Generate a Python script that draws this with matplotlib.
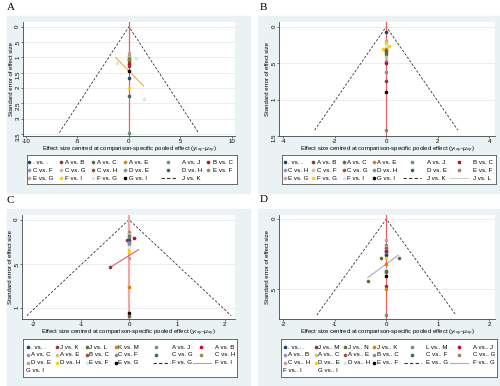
import matplotlib
matplotlib.use('Agg')
import matplotlib.pyplot as plt
from matplotlib.patches import Rectangle
from matplotlib.ticker import FuncFormatter

plt.rcParams['font.family'] = ['Liberation Sans', 'DejaVu Sans']
plt.rcParams['axes.unicode_minus'] = False

# stata s2color marker palette (p1..p15) + black
pal = ['#1a476f', '#90353b', '#55752f', '#e37e00', '#6e8e84', '#c10534',
       '#938dd2', '#cac27e', '#a0522d', '#7b92a8', '#2d6d66', '#9c8847',
       '#bfa19c', '#ffd200', '#d9e6eb', '#000000']

# ---------------- panel A ----------------
a_keys = ['. vs. .', 'A vs. B', 'A vs. C', 'A vs. E', 'A vs. J', 'B vs. C',
          'C vs. F', 'C vs. G', 'C vs. H', 'D vs. E', 'D vs. H', 'E vs. F',
          'E vs. G', 'F vs. I', 'F vs. G', 'G vs. I', 'J vs. K']
a_pt_key = ['E vs. G', 'A vs. E', 'C vs. G', 'C vs. F', 'A vs. C', 'D vs. E',
            'E vs. F', 'C vs. H', 'B vs. C', 'A vs. B', 'G vs. I', '. vs. .',
            'F vs. I', 'D vs. H', 'A vs. J', 'F vs. G', 'F vs. G', 'F vs. G']
a_pt_x = [0, 0, 0, 0, 0, 0, 0, 0, 0, 0, 0, 0, 0, 0, 0, -1.2, 0.68, 1.48]
a_pt_se = [0.85, 0.95, 1.0, 1.02, 1.05, 1.08, 1.1, 1.15, 1.22, 1.27, 1.43,
           1.67, 2.01, 2.26, 3.45, 1.19, 1.01, 2.37]
a_fit_x = [-1.27, 1.43]
a_fit_se = [1.01, 1.93]

# ---------------- panel B ----------------
b_keys = ['. vs. .', 'A vs. B', 'A vs. C', 'A vs. E', 'A vs. J', 'B vs. C',
          'C vs. H', 'C vs. F', 'C vs. G', 'D vs. H', 'D vs. E', 'E vs. F',
          'E vs. G', 'F vs. G', 'F vs. I', 'G vs. I', 'J vs. K', 'J vs. L']
b_pt_key = ['. vs. .', 'E vs. G', 'F vs. G', 'F vs. G', 'F vs. G', 'F vs. I',
            'A vs. E', 'E vs. F', 'D vs. E', 'C vs. G', 'A vs. C', 'C vs. F',
            'C vs. H', 'B vs. C', 'D vs. H', 'A vs. B', 'G vs. I', 'A vs. J']
b_pt_x = [0, 0, 0, 0.1, -0.14, 0, 0, 0, 0, 0, 0, 0, 0, 0, 0, 0, 0, 0]
b_pt_se = [0.077, 0.19, 0.22, 0.26, 0.31, 0.27, 0.3, 0.32, 0.34, 0.35, 0.38,
           0.41, 0.47, 0.5, 0.62, 0.75, 0.9, 1.42]
b_fit_x = [-0.03, 0.03]
b_fit_se = [0.33, 0.45]

# ---------------- panel C ----------------
c_keys = ['. vs. .', 'J vs. K', 'J vs. L', 'K vs. M', 'A vs. J', 'A vs. B',
          'A vs. C', 'A vs. E', 'B vs. C', 'C vs. F', 'C vs. G', 'C vs. H',
          'D vs. E', 'D vs. H', 'E vs. F', 'E vs. G', 'F vs. G', 'F vs. I',
          'G vs. I']
c_pt_key = ['C vs. H', 'A vs. E', 'C vs. G', 'A vs. J', '. vs. .', 'J vs. K',
            'A vs. B', 'B vs. C', 'A vs. C', 'C vs. F', 'E vs. F', 'D vs. H',
            'D vs. E', 'K vs. M', 'E vs. G', 'J vs. L', 'J vs. K']
c_pt_x = [0, 0, 0, 0, 0, -0.04, 0.1, 0, 0, 0, 0, 0, 0, 0, 0, 0, -0.39]
c_pt_se = [0.144, 0.16, 0.18, 0.2, 0.23, 0.23, 0.21, 0.25, 0.27, 0.28, 0.31,
           0.36, 0.43, 0.77, 1.06, 1.09, 0.54]
c_fit_x = [-0.39, 0.2]
c_fit_se = [0.54, 0.34]

# ---------------- panel D ----------------
d_keys = ['. vs.. .', 'J vs.. M', 'J vs.. N', 'J vs.. K', 'L vs.. M',
          'A vs.. J', 'A vs.. B', 'A vs.. C', 'A vs.. E', 'B vs.. C',
          'C vs.. F', 'C vs.. G', 'C vs.. H', 'D vs.. E', 'D vs.. H',
          'E vs.. F', 'E vs.. G', 'F vs.. G', 'F vs.. I', 'G vs.. I']
d_pt_key = ['C vs.. H', 'C vs.. G', 'A vs.. C', 'A vs.. E', 'A vs.. B',
            'J vs.. M', 'A vs.. J', 'B vs.. C', '. vs.. .', 'D vs.. E',
            'J vs.. N', 'J vs.. N', 'J vs.. K', 'D vs.. H', 'C vs.. F',
            'J vs.. N', 'E vs.. F', 'J vs.. N', 'J vs.. M', 'J vs.. K',
            'L vs.. M']
d_pt_x = [0, 0, 0, 0, 0, 0, 0, 0, 0, 0, -0.1, 0.25, 0, 0, 0, 0, 0, -0.36,
          0, 0, 0]
d_pt_se = [0.15, 0.19, 0.2, 0.21, 0.22, 0.23, 0.24, 0.25, 0.26, 0.28, 0.28,
           0.28, 0.325, 0.36, 0.37, 0.38, 0.41, 0.447, 0.48, 0.5, 0.69]
d_fit_x = [-0.36, 0.23]
d_fit_se = [0.42, 0.26]

W, H = 500, 386
FS = 4.4


def fbox(x0, y0, x1, y1):
    return [x0 / W, 1 - y1 / H, (x1 - x0) / W, (y1 - y0) / H]


def yfmt(v, pos):
    s = '%g' % v
    if s.startswith('0.'):
        s = s[1:]
    return s


panels = [
    dict(letter='A', lpos=(6.5, 7.5), bg=(7, 16, 250, 193), ax=(23, 22, 235, 136),
         xlim=(-10.3, 10.32), ylim=(3.56, -0.153), xt=[-10, -5, 0, 5, 10],
         yt=[0, .5, 1, 1.5, 2, 2.5, 3, 3.5],
         keys=a_keys, pk=a_pt_key, px=a_pt_x, pse=a_pt_se,
         fx=a_fit_x, fse=a_fit_se, fcol='#f0a552',
         vcol='#e3625f', vlw=0.9,
         lines={16: dict(ls=(0, (3, 2)), color='#333333')},
         leg=(26.7, 155, 236.7, 184), rows=[7.5, 15.5, 23.3],
         mx=[2.6, 34.3, 66.6, 98.3, 141, 181.6],
         spans={4: (134.3, 150)},
         lx=[6.6, 38.3, 70.6, 102.6, 155, 186]),
    dict(letter='B', lpos=(259.5, 7), bg=(258, 16, 500, 193), ax=(279.3, 22, 495, 136),
         xlim=(-4.155, 4.226), ylim=(1.5, -0.064), xt=[-4, -2, 0, 2, 4],
         yt=[0, .5, 1, 1.5],
         keys=b_keys, pk=b_pt_key, px=b_pt_x, pse=b_pt_se,
         fx=b_fit_x, fse=b_fit_se, fcol='#c8d6cf',
         vcol='#e3625f', vlw=0.9,
         lines={16: dict(ls=(0, (3, 2)), color='#333333'),
                17: dict(ls='-', color='#c8d6cf')},
         leg=(282.3, 155, 496, 184), rows=[7.5, 15.5, 23.3],
         mx=[2.7, 31, 61.7, 91.7, 130, 176.7],
         spans={4: (121, 138.4), 5: (167.7, 186)},
         lx=[6, 34.4, 65, 95, 144.4, 190.4]),
    dict(letter='C', lpos=(6.5, 200.5), bg=(7, 209, 250, 386), ax=(22, 214.7, 235, 319),
         xlim=(-2.237, 2.217), ylim=(1.128, -0.057), xt=[-2, -1, 0, 1, 2],
         yt=[0, .5, 1],
         keys=c_keys, pk=c_pt_key, px=c_pt_x, pse=c_pt_se,
         fx=c_fit_x, fse=c_fit_se, fcol='#e0606a',
         vcol='#f4a6a6', vlw=1.6,
         lines={16: dict(ls=(0, (3, 2)), color='#333333'),
                17: dict(ls='-', color='#ef8a8f')},
         leg=(22.7, 339, 237.3, 377), rows=[8.3, 16, 23.7, 31.7],
         mx=[5, 34.6, 64, 93, 133, 178.3],
         spans={4: (130.6, 147.3), 5: (170, 188)},
         lx=[8.3, 37.3, 66.6, 95.6, 149, 192.3]),
    dict(letter='D', lpos=(259.5, 200), bg=(258, 209, 500, 386), ax=(279.3, 214.7, 495, 319),
         xlim=(-2.08, 2.11), ylim=(0.718, -0.031), xt=[-2, -1, 0, 1, 2],
         yt=[0, .5],
         keys=d_keys, pk=d_pt_key, px=d_pt_x, pse=d_pt_se,
         fx=d_fit_x, fse=d_fit_se, fcol='#a3a3ea',
         vcol='#e3625f', vlw=0.9,
         lines={16: dict(ls=(0, (3, 2)), color='#333333'),
                17: dict(ls='-', color='#a8a8ea')},
         leg=(280.7, 339, 496.7, 377), rows=[8.3, 16, 23.7, 31.7],
         mx=[4.3, 35, 64.3, 93.3, 131.6, 178.3],
         spans={4: (123.3, 140.3), 5: (169.3, 187.6)},
         lx=[7, 37.6, 67.6, 96, 145.3, 192]),
]

fig = plt.figure(figsize=(5, 3.86), dpi=100)
fig.patch.set_facecolor('white')

for p in panels:
    x0, y0, x1, y1 = p['bg']
    fig.patches.append(Rectangle((x0 / W, 1 - y1 / H), (x1 - x0) / W, (y1 - y0) / H,
                                 transform=fig.transFigure, color='#eaf2f3', zorder=-5))
    fig.text(p['lpos'][0] / W, 1 - p['lpos'][1] / H, p['letter'],
             family='Liberation Serif', fontsize=8, va='center', ha='left')

    ax = fig.add_axes(fbox(*p['ax']))
    ax.set_facecolor('white')
    ax.set_xlim(*p['xlim'])
    ax.set_ylim(*p['ylim'])
    ax.set_xticks(p['xt'])
    ax.set_yticks(p['yt'])
    ax.yaxis.set_major_formatter(FuncFormatter(yfmt))
    for s in ['top', 'right']:
        ax.spines[s].set_visible(False)
    for s in ['left', 'bottom']:
        ax.spines[s].set_color('#444444')
        ax.spines[s].set_linewidth(0.6)
    ax.tick_params(length=1.6, width=0.5, color='#444444', labelsize=FS, pad=0.8)
    ax.tick_params(axis='y', labelrotation=90, pad=0.4)
    ax.yaxis.grid(True, color='#e3ecef', lw=0.6)
    ax.set_axisbelow(True)
    ax.set_xlabel('Effect size centred at comparison-specific pooled effect '
                  r'($y_{ixy}$-$\mu_{xy}$)', fontsize=FS - 0.1, labelpad=0.6)
    ax.set_ylabel('Standard error of effect size', fontsize=FS - 0.1, labelpad=1.2)

    # funnel (95% limits) and zero line
    smax = max(p['pse'])
    ax.plot([-1.96 * smax, 0, 1.96 * smax], [smax, 0, smax], color='#333333',
            lw=0.6, ls=(0, (3, 2)), zorder=2)
    ax.axvline(0, color=p['vcol'], lw=p['vlw'], zorder=2)
    ax.plot(p['fx'], p['fse'], color=p['fcol'], lw=0.8, zorder=3)

    for k, xv, sv in zip(p['pk'], p['px'], p['pse']):
        c = pal[p['keys'].index(k)]
        ax.plot(xv, sv, 'o', color=c, ms=2.6, mec='none', zorder=4)

    # legend box, stata style: filled row by row
    lx0, ly0, lx1, ly1 = p['leg']
    lax = fig.add_axes(fbox(lx0, ly0, lx1, ly1))
    lax.set_xlim(0, lx1 - lx0)
    lax.set_ylim(ly1 - ly0, 0)
    lax.set_xticks([])
    lax.set_yticks([])
    lax.set_facecolor('white')
    for s in lax.spines.values():
        s.set_color('#555555')
        s.set_linewidth(0.6)
    for i, lab in enumerate(p['keys']):
        r, c = divmod(i, 6)
        yy = p['rows'][r]
        if i < 16:
            lax.plot(p['mx'][c], yy, 'o', color=pal[i], ms=2.6, mec='none')
            tx = p['lx'][c]
        elif i in p['lines']:
            st = p['lines'][i]
            lax.plot(p['spans'][c], [yy, yy], ls=st['ls'], color=st['color'], lw=0.8)
            tx = p['lx'][c]
        else:
            tx = p['mx'][c] - 2 if c == 0 else p['lx'][c]
        lax.text(tx, yy, lab, fontsize=FS, va='center', ha='left')

fig.savefig('out.png', dpi=100)
